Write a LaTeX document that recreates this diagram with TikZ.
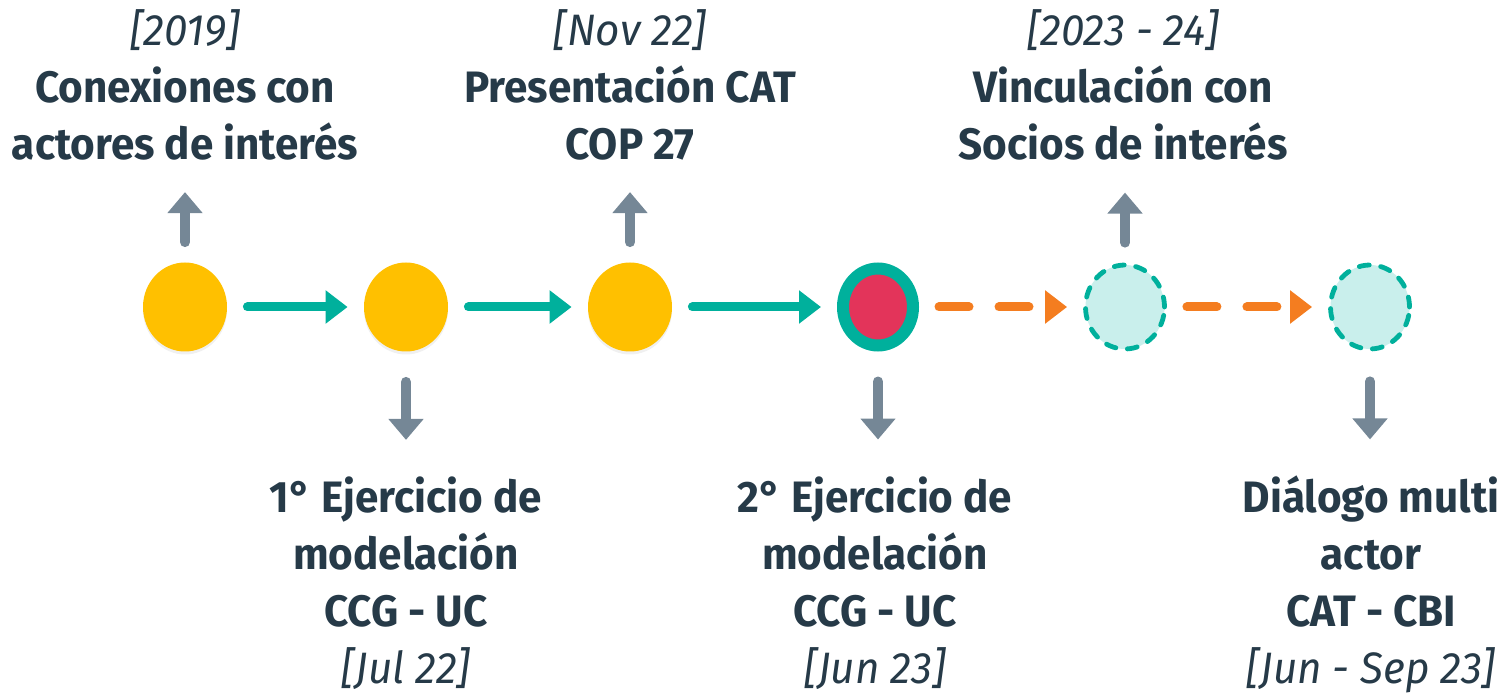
\documentclass[tikz,border=0pt]{standalone}
\usepackage{fontspec}
\setmainfont{Fira Sans}[FakeStretch=0.96]
\usetikzlibrary{arrows.meta,shapes.geometric,shadows}
\definecolor{ink}{HTML}{263A48}
\definecolor{amber}{HTML}{FFC000}
\definecolor{verde}{HTML}{00B09C}
\definecolor{rojo}{HTML}{E3345A}
\definecolor{celeste}{HTML}{C9EFEC}
\definecolor{naranja}{HTML}{F47D20}
\definecolor{gris}{HTML}{758796}

\begin{document}
\begin{tikzpicture}[x=0.5pt,y=-0.5pt,
  dot/.style={ellipse,inner sep=0,minimum width=42pt,minimum height=44.5pt},
  past/.style={dot,fill=amber,drop shadow={opacity=0.12,shadow xshift=0pt,shadow yshift=-1.5pt}},
  now/.style={dot,fill=rojo,draw=verde,line width=6pt,minimum width=35pt,minimum height=38.5pt,
    drop shadow={opacity=0.12,shadow xshift=0pt,shadow yshift=-1.5pt}},
  next/.style={dot,fill=celeste,draw=verde,line width=2.4pt,dash pattern=on 5pt off 5.8pt,line cap=round,
    minimum width=39.5pt,minimum height=42pt},
  flow/.style={verde,line width=4.5pt,line cap=round,-{Triangle[length=11pt,width=16pt]},
    shorten <=10pt,shorten >=8pt},
  plan/.style={flow,naranja,dash pattern=on 15pt off 15pt},
  tick/.style={gris,line width=5pt,line cap=round,-{Triangle[length=10.5pt,width=17pt]},shorten <=10pt},
  txt/.style={ink,align=center,inner sep=0,anchor=base,
    font=\fontsize{22}{28.5}\selectfont\bfseries}
]
\useasboundingbox (0,0) rectangle (1505,695);

% hitos
\node[past] (c1) at (185,307) {};
\node[past] (c2) at (406,307) {};
\node[past] (c3) at (630,307) {};
\node[now]  (c4) at (878,307) {};
\node[next] (c5) at (1125,307) {};
\node[next] (c6) at (1370,307) {};

% secuencia
\draw[flow] (c1) -- (c2);
\draw[flow] (c2) -- (c3);
\draw[flow] (c3) -- (c4);
\draw[plan] (c4) -- (c5);
\draw[plan] (c5) -- (c6);

% textos arriba (anclados en la ultima linea)
\node[txt] (t1) at (185,160) {{\mdseries\itshape [2019]}\\Conexiones con\\actores de interés};
\node[txt] (t3) at (630,160) {{\mdseries\itshape [Nov 22]}\\Presentación CAT\\COP 27};
\node[txt] (t5) at (1123,160) {{\mdseries\itshape [2023 - 24]}\\Vinculación con\\Socios de interés};

% textos abajo
\node[txt] (t2) at (406,683) {1° Ejercicio de\\modelación\\CCG - UC\\{\mdseries\itshape [Jul 22]}};
\node[txt] (t4) at (875,683) {2° Ejercicio de\\modelación\\CCG - UC\\{\mdseries\itshape [Jun 23]}};
\node[txt] (t6) at (1371,683) {Diálogo multi\\actor\\CAT - CBI\\{\mdseries\itshape [Jun - Sep 23]}};

% flechas a los textos
\coordinate (u1) at ([yshift=35pt]c1.north);
\coordinate (u3) at ([yshift=35pt]c3.north);
\coordinate (u5) at ([yshift=35pt]c5.north);
\coordinate (d2) at ([yshift=-44pt]c2.south);
\coordinate (d4) at ([yshift=-44pt]c4.south);
\coordinate (d6) at ([yshift=-44pt]c6.south);
\draw[tick] (c1.north) -- (u1);
\draw[tick] (c3.north) -- (u3);
\draw[tick] (c5.north) -- (u5);
\draw[tick,shorten <=15pt] (c2.south) -- (d2);
\draw[tick,shorten <=15pt] (c4.south) -- (d4);
\draw[tick,shorten <=15pt] (c6.south) -- (d6);
\end{tikzpicture}
\end{document}
